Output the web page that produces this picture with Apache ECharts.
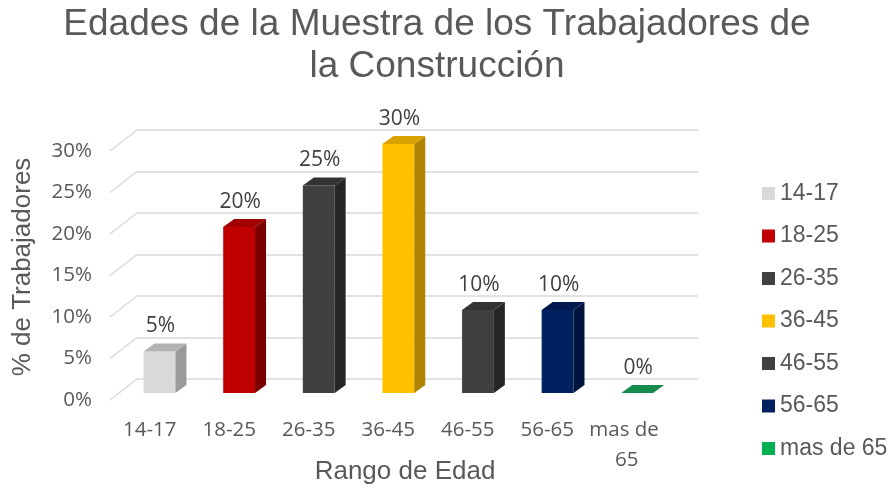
<!DOCTYPE html>
<html>
<head>
<meta charset="utf-8">
<script src="https://cdn.jsdelivr.net/npm/echarts@6/dist/echarts.min.js"></script>
<style>
  html, body { margin: 0; padding: 0; background: #fff; }
  #chart { width: 894px; height: 489px; }
</style>
</head>
<body>
<div id="chart"></div>
<script>
// data
var categories = ['14-17', '18-25', '26-35', '36-45', '46-55', '56-65', 'mas de 65'];
var shares = [0.05, 0.20, 0.25, 0.30, 0.10, 0.10, 0.00];
var yTicks = [0, 0.05, 0.10, 0.15, 0.20, 0.25, 0.30];

// colours for each bar: front, side, top
var frontColors = ['#d9d9d9', '#c00000', '#404040', '#ffc000', '#404040', '#002060', '#00b050'];
var sideColors  = ['#9a9a9a', '#7a0000', '#262626', '#b08400', '#262626', '#00143d', '#0b7a3c'];
var topColors   = ['#b3b3b3', '#a00000', '#333333', '#d9a200', '#333333', '#001a4f', '#168c4c'];

var pct = function (v) { return Math.round(v * 100) + '%'; };
var DX = 11, DY = -8;   // depth offset of the bars
var chart = echarts.init(document.getElementById('chart'));

function barRenderer(i) {
  return function (params, api) {
    var top = api.coord([api.value(0), api.value(1)]);
    var base = api.coord([api.value(0), 0]);
    var w = api.size([1, 0])[0] * 0.4;
    var l = top[0] - w / 2, r = top[0] + w / 2;
    var yt = top[1], yb = base[1];
    var kids = [];
    if (yb - yt > 0.5) {
      kids.push({ type: 'rect', shape: { x: l, y: yt, width: w, height: yb - yt },
        style: { fill: frontColors[i] } });
      kids.push({ type: 'polygon', shape: { points: [[r, yt], [r + DX, yt + DY], [r + DX, yb + DY], [r, yb]] },
        style: { fill: sideColors[i] } });
    }
    kids.push({ type: 'polygon', shape: { points: [[l, yt], [r, yt], [r + DX, yt + DY], [l + DX, yt + DY]] },
      style: { fill: topColors[i] } });
    kids.push({ type: 'text', x: top[0] + 1, y: yt - 25,
      style: { text: pct(api.value(1)), fill: '#404040', font: '21px "Open Sans"',
        align: 'center', verticalAlign: 'middle' } });
    return { type: 'group', children: kids };
  };
}

var series = [{
  // slanted lines of the side wall
  type: 'custom', xAxisIndex: 0, yAxisIndex: 0, silent: true, z: 1,
  data: yTicks.map(function (v) { return [0, v]; }),
  renderItem: function (params, api) {
    var p = api.coord([0, api.value(1)]);
    var x = params.coordSys.x;
    return { type: 'line', shape: { x1: x, y1: p[1], x2: x - 27, y2: p[1] + 21 },
      style: { stroke: '#d9d9d9', lineWidth: 1.5 } };
  }
}];

categories.forEach(function (c, i) {
  series.push({
    name: c, type: 'custom', xAxisIndex: 1, yAxisIndex: 1, z: 3,
    itemStyle: { color: frontColors[i] },
    data: [[i, shares[i]]],
    renderItem: barRenderer(i)
  });
});

chart.setOption({
  animation: false,
  backgroundColor: '#ffffff',
  title: {
    text: 'Edades de la Muestra de los Trabajadores de\nla Construcción',
    left: 437, top: 4, padding: 0, textAlign: 'center',
    textStyle: { fontFamily: '"Liberation Sans", Arial', fontSize: 37, fontWeight: 'normal',
      color: '#595959', lineHeight: 42 }
  },
  legend: {
    orient: 'vertical', left: 762, top: 182, padding: 0,
    itemWidth: 13, itemHeight: 13, itemGap: 19.5, icon: 'rect',
    data: categories,
    textStyle: { fontFamily: '"Liberation Sans", Arial', fontSize: 23, color: '#595959',
      lineHeight: 23, padding: [0, 0, 0, 0] }
  },
  grid: [
    { left: 137, right: 196, top: 130, bottom: 110 },
    { left: 119.7, right: 217, top: 144, bottom: 96 },
    { left: 110, right: 227.5, top: 151, bottom: 89 }
  ],
  xAxis: [
    { type: 'category', gridIndex: 0, data: categories, show: false },
    { type: 'category', gridIndex: 1, data: categories, show: false },
    { type: 'category', gridIndex: 2, data: categories, position: 'bottom',
      axisLine: { show: false }, axisTick: { show: false },
      axisLabel: { interval: 0, margin: 15, fontFamily: '"Open Sans"', fontSize: 20.5,
        color: '#595959', lineHeight: 30, width: 78, overflow: 'break' } }
  ],
  yAxis: [
    { type: 'value', gridIndex: 0, min: 0, max: 0.3, interval: 0.05,
      axisLine: { show: false }, axisTick: { show: false }, axisLabel: { show: false },
      splitLine: { lineStyle: { color: '#d9d9d9', width: 1.5 } } },
    { type: 'value', gridIndex: 1, min: 0, max: 0.3, interval: 0.05, show: false,
      splitLine: { show: false } },
    { type: 'value', gridIndex: 2, min: 0, max: 0.3, interval: 0.05,
      axisLine: { show: false }, axisTick: { show: false }, splitLine: { show: false },
      axisLabel: { margin: 18, formatter: pct, fontFamily: '"Open Sans"', fontSize: 20.5,
        color: '#595959' } }
  ],
  graphic: [
    { type: 'text', x: 23, y: 267, rotation: Math.PI / 2,
      style: { text: '% de Trabajadores', font: '26px "Liberation Sans"', fill: '#595959',
        align: 'center', verticalAlign: 'middle' } },
    { type: 'text', x: 405, y: 472,
      style: { text: 'Rango de Edad', font: '26px "Liberation Sans"', fill: '#595959',
        align: 'center', verticalAlign: 'middle' } }
  ],
  series: series
});
</script>
</body>
</html>
